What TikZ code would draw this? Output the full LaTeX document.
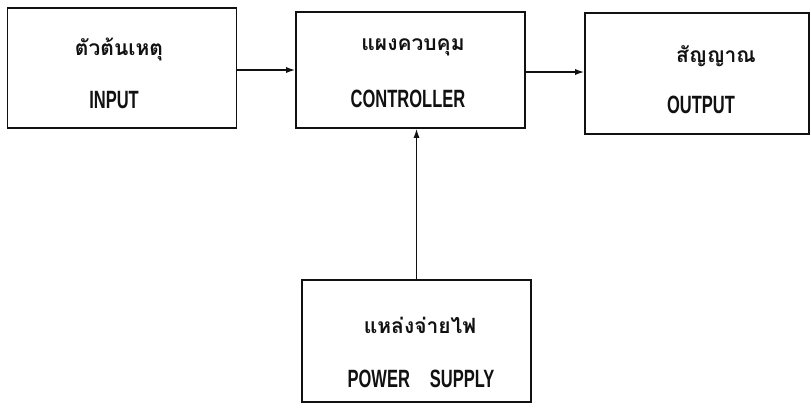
\documentclass[tikz,border=0pt]{standalone}
\usepackage{fontspec}
\setmainfont{Liberation Sans}[FakeStretch=0.66]
\newfontfamily\thaifont[Script=Thai]{Loma}
\usepackage{tikz}
\usetikzlibrary{arrows.meta,calc,positioning}
\usepackage{xcolor}
\definecolor{inkblack}{HTML}{111111}

\begin{document}
\begin{tikzpicture}[x=1pt,y=-1pt,>={Latex[length=9pt,width=6pt]},
  blockbox/.style={draw=inkblack,line width=1.6pt,minimum width=229pt,minimum height=118pt,inner sep=0pt},
  thailabel/.style={anchor=base,inner sep=0pt,font=\thaifont\fontsize{21}{24}\selectfont\bfseries,text=inkblack},
  englabel/.style={anchor=base,inner sep=0pt,font=\fontsize{25}{28}\selectfont\bfseries,text=inkblack},
  link/.style={->,line width=1.4pt,inkblack}]
  \useasboundingbox (0,0) rectangle (810,402);
  % blocks
  \node[blockbox,minimum height=120pt] (inbox) at (122,68) {};
  \node[blockbox,minimum height=116pt] (ctrlbox) at (410.5,70) {};
  \node[blockbox,minimum width=224pt,minimum height=121pt] (outbox) at (697,73.5) {};
  \node[blockbox,minimum height=122pt] (pwrbox) at (416.5,341) {};
  % labels
  \node[thailabel] (inthai) at (119,55) {ตัวต้นเหตุ};
  \node[englabel] (ineng) at (114,108) {INPUT};
  \node[thailabel] (ctrlthai) at (413,50) {แผงควบคุม};
  \node[englabel] (ctrleng) at (408,107) {CONTROLLER};
  \node[thailabel] (outthai) at (716,62) {สัญญาณ};
  \node[englabel] (outeng) at (701,113) {OUTPUT};
  \node[thailabel] (pwrthai) at (420,333) {แหล่งจ่ายไฟ};
  \node[englabel] (pwreng) at (421,387) {POWER\hspace{20pt}SUPPLY};
  % connectors
  \coordinate (inout) at ($(inbox.east)+(0,2)$);
  \coordinate (ctrlout) at ($(ctrlbox.east)+(0,2)$);
  \draw[link] (inout) -- (inout -| ctrlbox.west);
  \draw[link] (ctrlout) -- (ctrlout -| outbox.west);
  \draw[link] (pwrbox.north) -- (pwrbox.north |- ctrlbox.south);
\end{tikzpicture}
\end{document}
